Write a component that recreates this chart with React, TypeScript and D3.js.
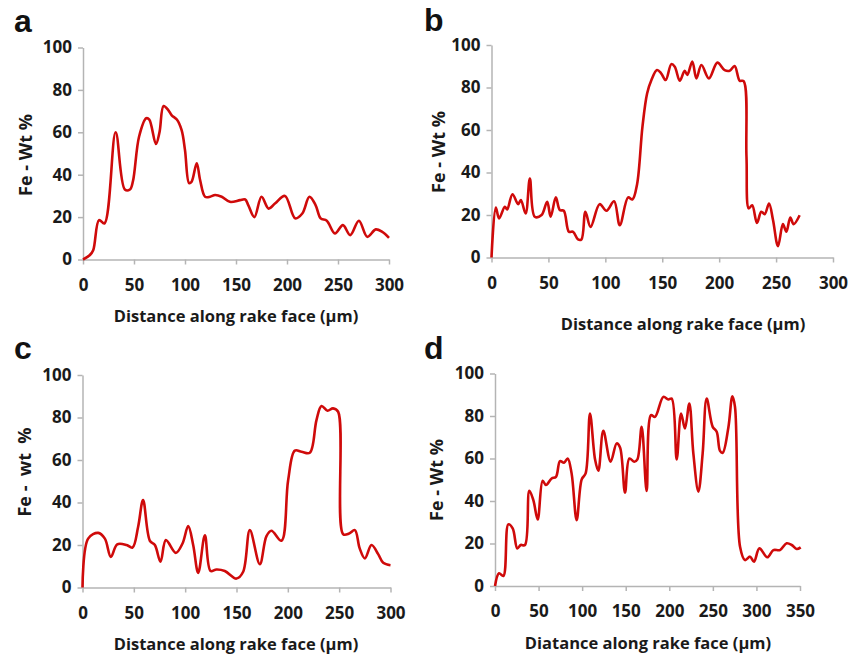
import { useEffect, useRef } from 'react';
import * as d3 from 'd3';

// panel a
const distA = [0, 6.5, 10, 15.7, 21, 32, 41, 46, 49, 55, 62, 65, 71.5, 75, 79, 83.6, 87, 92, 96.7, 100, 104, 106.5, 111.5, 114.8, 119.7, 124.6, 129.5, 136, 144, 154, 159, 162, 168, 175, 182, 188.5, 198, 208, 215, 222, 228, 233, 239, 247, 254.8, 262, 270.5, 278.7, 287, 293.4, 300];
const feA = [0, 2, 4.4, 18.6, 17, 60, 33, 33, 37, 58, 66.6, 66, 54.5, 60, 72.4, 70.5, 68, 66, 61, 51.6, 36, 36.7, 45.4, 37.5, 29.6, 29.6, 30.4, 29.6, 27.2, 28, 28.3, 25.7, 20, 29.6, 24, 26.5, 30, 19.4, 21.7, 29.6, 25.7, 19.4, 18.3, 12.3, 16.2, 11.5, 18.3, 10.7, 14.2, 13, 10.2];

// panel b
const distB = [0, 3.8, 6.7, 11.7, 13.8, 18.4, 23.4, 25.8, 30, 33.7, 38, 44, 48.9, 52, 56.5, 60, 63.5, 68, 71.7, 76, 79, 82.5, 87, 95, 101, 107.7, 112.7, 120, 123.8, 127.9, 132.6, 136.7, 140.5, 145.4, 149, 153, 158, 161, 165.4, 169.7, 172, 176.4, 180, 184.4, 191, 198.4, 204.8, 209.2, 213.6, 218, 221.5, 224, 226, 229, 233.2, 237, 240, 243.8, 247.3, 251.7, 256, 259, 262.5, 265.4, 270.7];
const feB = [0, 23.5, 18.4, 23.9, 22.6, 29.8, 25.1, 27, 20.7, 37.2, 19.2, 20, 26.2, 19.2, 28.3, 22.3, 22, 12.1, 12.1, 8.5, 8.5, 21.5, 14.4, 25.1, 22, 26.5, 15.2, 28.3, 27.3, 34.5, 61.5, 77.2, 83.5, 88.2, 86.7, 83.5, 91, 89.8, 83.2, 87.9, 85.9, 92.2, 84.3, 90.6, 84.3, 91.7, 88.2, 87.9, 90.1, 83.2, 83, 47.4, 23.1, 24.6, 16.3, 21.5, 20.4, 25.4, 17.6, 5.3, 15.7, 12.1, 18.8, 15.7, 19.9];

// panel c
const distC = [0, 5.5, 15.3, 21.8, 27.6, 33.8, 42.9, 48.7, 54.2, 59, 65.6, 70.5, 76, 81.2, 90.9, 97.4, 103, 107.8, 112.7, 119.2, 124.7, 130.5, 138.6, 150, 156.5, 163, 172.7, 179.2, 184, 193.8, 200.3, 206.8, 213.3, 221.4, 227.9, 232.8, 238.6, 244, 249, 253.9, 259.7, 265.3, 270, 275, 281.5, 288, 292.9, 300];
const feC = [0, 23, 25.7, 23, 14.4, 20.3, 20, 18.8, 28.6, 41.1, 22, 20, 12.1, 22.3, 16.3, 20.7, 28.9, 20, 6.9, 24.6, 7.8, 8.5, 7.8, 4.2, 7.4, 27, 11, 24.2, 26.7, 22, 50.5, 64.4, 63.9, 63.4, 78.8, 85.4, 83.2, 84.3, 82.7, 25.1, 25.4, 27, 18.4, 13.7, 20, 15.7, 11.6, 10.5];

// panel d
const distD = [0, 4.6, 9.6, 15.3, 20.3, 25.6, 29.5, 34.4, 39.4, 44, 49, 54.7, 58.5, 65, 70, 74.6, 79.2, 83.4, 87.9, 93.7, 99.5, 104, 109, 114.8, 118.6, 124.3, 132.7, 139.6, 143.5, 149.2, 154.2, 159.9, 163.4, 168.3, 174, 179, 183.6, 193.2, 198.9, 202.8, 208.5, 213.5, 218, 223, 227.6, 233.4, 238.3, 242.9, 249.8, 254.4, 258.2, 261.3, 267.8, 272.4, 275.4, 281.2, 286.9, 292.7, 297.2, 303.4, 312.5, 319.4, 327, 334.7, 340.5, 346.2, 350.8];
const feD = [0, 6, 4.7, 29, 27.1, 17.7, 19.3, 19.3, 44.8, 40.4, 31.3, 49.5, 47.5, 50.6, 51.4, 58.8, 58, 60, 53, 31, 50.2, 53, 81.2, 59.6, 54.2, 73, 58.5, 67.1, 65.2, 43.9, 60, 58.5, 59.6, 74.9, 44.7, 80.4, 79.6, 89, 87.8, 88.2, 59.6, 81.2, 74.1, 85.9, 62.4, 44.4, 62.4, 88.2, 74.9, 72.6, 63.6, 62.7, 74.6, 89.3, 84.3, 18.5, 12.2, 13.8, 11.4, 17.7, 13.5, 16.9, 16.9, 20.1, 19.3, 17.4, 18.2];

const yTicks = [0, 20, 40, 60, 80, 100];

const panels = [
  { letter: 'a', xs: distA, ys: feA, xMax: 300, left: 83, right: 389, top: 47.5, bottom: 259.5, lx: 14, ly: 32, yTitle: 'Fe - Wt %', ytx: 25, yty: 155, xTitle: 'Distance along rake face (µm)', xtx: 236, xty: 315 },
  { letter: 'b', xs: distB, ys: feB, xMax: 300, left: 491.5, right: 833, top: 45, bottom: 257.5, lx: 424, ly: 31, yTitle: 'Fe - Wt %', ytx: 438, yty: 152, xTitle: 'Distance along rake face (µm)', xtx: 683, xty: 323 },
  { letter: 'c', xs: distC, ys: feC, xMax: 300, left: 82.5, right: 390.5, top: 375, bottom: 587.5, lx: 14, ly: 359, yTitle: 'Fe -  wt  %', ytx: 24, yty: 472, xTitle: 'Distance along rake face (µm)', xtx: 236, xty: 643 },
  { letter: 'd', xs: distD, ys: feD, xMax: 350, left: 495, right: 800, top: 373.5, bottom: 586, lx: 424, ly: 359, yTitle: 'Fe - Wt %', ytx: 436, yty: 480, xTitle: 'Diatance along rake face (µm)', xtx: 648, xty: 642 },
];

const font = '"Open Sans", sans-serif';
const axisColor = '#b4b4b4';
const lineColor = '#cf0a0a';

export default function App() {
  const svgRef = useRef<SVGSVGElement | null>(null);

  useEffect(() => {
    const svg = d3.select(svgRef.current);
    svg.selectAll('*').remove();

    panels.forEach((p) => {
      const g = svg.append('g');
      const x = d3.scaleLinear().domain([0, p.xMax]).range([p.left, p.right]);
      const y = d3.scaleLinear().domain([0, 100]).range([p.bottom, p.top]);

      // axes
      const xAxis = g
        .append('g')
        .attr('transform', `translate(0,${p.bottom})`)
        .call(d3.axisBottom(x).tickValues(d3.range(0, p.xMax + 1, 50)).tickSize(5).tickPadding(14).tickSizeOuter(0));
      const yAxis = g
        .append('g')
        .attr('transform', `translate(${p.left},0)`)
        .call(d3.axisLeft(y).tickValues(yTicks).tickSize(5).tickPadding(6).tickSizeOuter(0));

      [xAxis, yAxis].forEach((a) => {
        a.select('.domain').attr('stroke', axisColor).attr('stroke-width', 1.5);
        a.selectAll('.tick line').attr('stroke', axisColor).attr('stroke-width', 1.5);
        a.selectAll('.tick text')
          .attr('fill', '#1a1a1a')
          .attr('font-family', font)
          .attr('font-weight', 700)
          .attr('font-size', 17);
      });

      // data line
      const pts = p.xs.map((d, i) => [d, p.ys[i]] as [number, number]);
      const line = d3
        .line<[number, number]>()
        .x((d) => x(d[0]))
        .y((d) => y(d[1]))
        .curve(d3.curveCatmullRom.alpha(0.5));
      g.append('path')
        .attr('d', line(pts))
        .attr('fill', 'none')
        .attr('stroke', lineColor)
        .attr('stroke-width', 2.6)
        .attr('stroke-linejoin', 'round');

      // panel letter
      g.append('text')
        .attr('x', p.lx)
        .attr('y', p.ly)
        .attr('font-family', '"Liberation Sans", Arial, sans-serif')
        .attr('font-weight', 'bold')
        .attr('font-size', 32)
        .attr('fill', '#111')
        .text(p.letter);

      // titles
      g.append('text')
        .attr('transform', `translate(${p.ytx},${p.yty}) rotate(-90)`)
        .attr('text-anchor', 'middle')
        .attr('dominant-baseline', 'central')
        .attr('font-family', font)
        .attr('font-weight', 700)
        .attr('font-size', 18)
        .attr('fill', '#1a1a1a')
        .style('white-space', 'pre')
        .text(p.yTitle);

      g.append('text')
        .attr('x', p.xtx)
        .attr('y', p.xty)
        .attr('text-anchor', 'middle')
        .attr('dominant-baseline', 'central')
        .attr('font-family', font)
        .attr('font-weight', 700)
        .attr('font-size', 16.5)
        .attr('fill', '#1a1a1a')
        .text(p.xTitle);
    });
  }, []);

  return (
    <svg
      ref={svgRef}
      width={860}
      height={657}
      style={{ position: 'absolute', left: 0, top: 0, background: '#fff' }}
    />
  );
}
